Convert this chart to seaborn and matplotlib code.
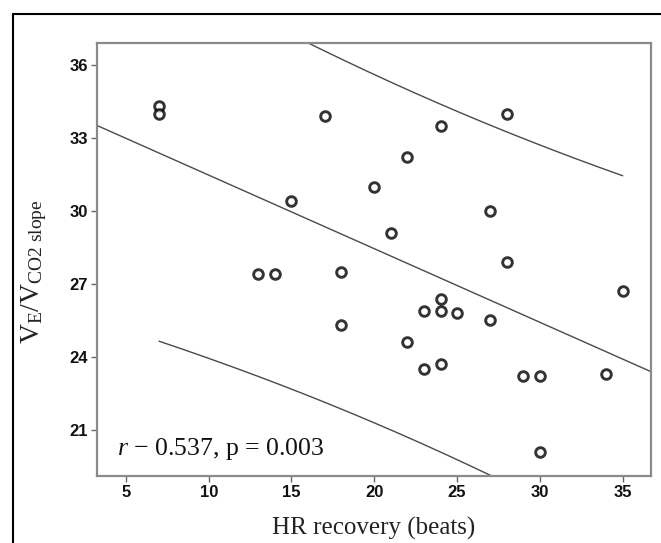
import numpy as np
import pandas as pd
import matplotlib
matplotlib.use("Agg")
import matplotlib.pyplot as plt
from matplotlib.lines import Line2D
import seaborn as sns

# ---- data ----
hr_recovery = [7, 7, 17, 28, 24, 22, 20, 15, 27, 21, 28, 13, 14, 18,
               35, 24, 23, 24, 25, 27, 18, 22, 24, 23, 29, 30, 34, 30]
ve_vco2 = [34.3, 34.0, 33.9, 34.0, 33.5, 32.2, 31.0, 30.4, 30.0, 29.1, 27.9, 27.4, 27.4, 27.5,
           26.7, 26.4, 25.9, 25.9, 25.8, 25.5, 25.3, 24.6, 23.7, 23.5, 23.2, 23.2, 23.3, 20.1]
x_ticks = [5, 10, 15, 20, 25, 30, 35]
y_ticks = [21, 24, 27, 30, 33, 36]
annotation = " \u2212 0.537, p = 0.003"

df = pd.DataFrame({"x": hr_recovery, "y": ve_vco2})

sns.set_style("white")
plt.rcParams["mathtext.fontset"] = "custom"
plt.rcParams["mathtext.rm"] = "Liberation Serif"
plt.rcParams["mathtext.it"] = "Liberation Serif:italic"

fig = plt.figure(figsize=(6.61, 5.43), dpi=100)
ax = fig.add_axes([97/661, 1-476/543, (651-97)/661, (476-43)/543])
ax.set_xlim(3.255, 36.71)
ax.set_ylim(19.11, 36.9)

sns.regplot(data=df, x="x", y="y", ax=ax, ci=None, truncate=False,
            scatter_kws=dict(s=48, facecolors="white", edgecolors="black",
                             linewidths=2.1, zorder=3),
            line_kws=dict(color="#4a4a4a", lw=1.0, zorder=2))

# 95% prediction interval for individual values
x = np.asarray(hr_recovery, float)
y = np.asarray(ve_vco2, float)
n = len(x)
b1, b0 = np.polyfit(x, y, 1)
resid = y - (b0 + b1 * x)
s = np.sqrt(np.sum(resid**2) / (n - 2))
try:
    from scipy import stats
    tval = stats.t.ppf(0.975, n - 2)
except Exception:
    tval = 2.0555
sxx = np.sum((x - x.mean())**2)
xs = np.linspace(x.min(), x.max(), 200)
yh = b0 + b1 * xs
half = tval * s * np.sqrt(1 + 1/n + (xs - x.mean())**2 / sxx)
pi = pd.DataFrame({"x": xs, "lo": yh - half, "hi": yh + half})
sns.lineplot(data=pi, x="x", y="hi", ax=ax, color="#4a4a4a", lw=1.0)
sns.lineplot(data=pi, x="x", y="lo", ax=ax, color="#4a4a4a", lw=1.0)

ax.set_xlim(3.255, 36.71)
ax.set_ylim(19.11, 36.9)
ax.set_xticks(x_ticks)
ax.set_yticks(y_ticks)
for sp in ax.spines.values():
    sp.set_color("#8a8a8a")
    sp.set_linewidth(1.6)
ax.tick_params(axis="both", direction="out", length=4.5, width=1.0, color="#666666",
               labelsize=12, pad=2, bottom=True, left=True)
for lab in ax.get_xticklabels() + ax.get_yticklabels():
    lab.set_fontweight("bold")
    lab.set_fontfamily("Liberation Sans")
    lab.set_color("#111111")

ax.set_xlabel("HR recovery (beats)", fontsize=18, family="Liberation Serif", color="#222222",
              labelpad=12)
ax.set_ylabel("")
fig.text(34/661, 1-272/543, r"$\mathrm{V_{E}/V_{CO2\ slope}}$", fontsize=20, color="#222222",
         rotation=90, ha="center", va="center")

ax.text(0.036, 0.048, r"$\mathit{r}$" + annotation, transform=ax.transAxes,
        fontsize=18.5, family="Liberation Serif", va="baseline", ha="left", color="#111111")

# outer frame of the original figure panel
fig.add_artist(Line2D([13/661, 13/661], [0, 1-14/543], transform=fig.transFigure,
                      color="black", lw=1.5))
fig.add_artist(Line2D([13/661, 1], [1-14/543, 1-14/543], transform=fig.transFigure,
                      color="black", lw=1.5))

fig.savefig("out.png", dpi=100)
